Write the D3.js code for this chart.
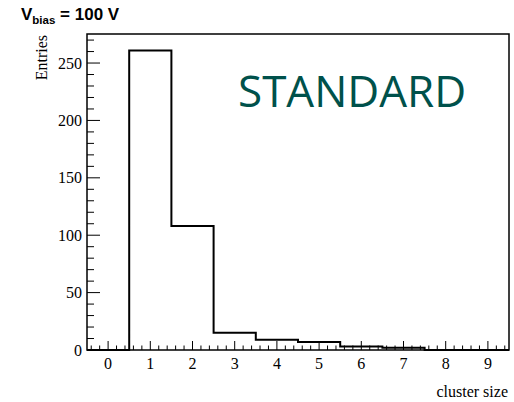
<!DOCTYPE html>
<html><head><meta charset="utf-8">
<script src="https://cdn.jsdelivr.net/npm/d3@7"></script>
<style>body{margin:0;background:#fff}svg{display:block}</style>
</head><body>
<svg id="c" width="514" height="402"></svg>
<script>
const binCenters = [0,1,2,3,4,5,6,7,8,9];
const entries = [0,261,108,15,9,7,3,2,0,0];
const xTickLabels = ["0","1","2","3","4","5","6","7","8","9"];
const yTickValues = [0,50,100,150,200,250];

const svg = d3.select("#c");
const L=87,R=509,T=34,B=350;
const x = d3.scaleLinear().domain([-0.5,9.5]).range([L,R]);
const y = d3.scaleLinear().domain([0,275.3]).range([B,T]);
const serif = "'Liberation Serif','Times New Roman',serif";

// histogram step path
const pts=[];
binCenters.forEach((c,i)=>{pts.push([c-0.5,entries[i]]);pts.push([c+0.5,entries[i]]);});
const line=d3.line().x(d=>x(d[0])).y(d=>y(d[1]));
svg.append("path").attr("d",line(pts)).attr("fill","none").attr("stroke","#000").attr("stroke-width",2);

// ticks
const g=svg.append("g").attr("stroke","#000").attr("stroke-width",1);
d3.range(-0.4,9.5,0.2).forEach(v=>{
  const vv=Math.round(v*10)/10;
  const major=Math.abs(vv-Math.round(vv))<1e-6;
  g.append("line").attr("x1",x(vv)).attr("x2",x(vv)).attr("y1",B).attr("y2",B-(major?9:4.5));
});
d3.range(0,275,10).forEach(v=>{
  const major=v%50===0;
  g.append("line").attr("x1",L).attr("x2",L+(major?13:7)).attr("y1",y(v)).attr("y2",y(v));
});

// frame
svg.append("rect").attr("x",L).attr("y",T).attr("width",R-L).attr("height",B-T)
  .attr("fill","none").attr("stroke","#000").attr("stroke-width",1.5);

// axes labels
svg.append("g").selectAll("text").data(binCenters).join("text")
  .attr("x",d=>x(d)).attr("y",369).attr("text-anchor","middle")
  .attr("font-family",serif).attr("font-size",16).text((d,i)=>xTickLabels[i]);
svg.append("g").selectAll("text").data(yTickValues).join("text")
  .attr("x",82).attr("y",d=>y(d)+5.5).attr("text-anchor","end")
  .attr("font-family",serif).attr("font-size",16).text(d=>d);

svg.append("text").attr("x",508).attr("y",397).attr("text-anchor","end")
  .attr("font-family",serif).attr("font-size",16).text("cluster size");
svg.append("text").attr("transform","translate(47,35) rotate(-90)").attr("text-anchor","end")
  .attr("font-family",serif).attr("font-size",16).text("Entries");

// title
const t=svg.append("text").attr("x",21).attr("y",20).attr("font-family","'Liberation Sans',Arial,sans-serif")
  .attr("font-weight","bold").attr("font-size",17);
t.append("tspan").text("V");
t.append("tspan").attr("font-size",11.5).attr("dy",4).text("bias");
t.append("tspan").attr("dy",-4).text(" = 100 V");

svg.append("text").attr("x",238).attr("y",107).attr("font-family","'Open Sans',sans-serif")
  .attr("font-size",44).attr("fill","#00514b").text("STANDARD");
</script>
</body></html>
